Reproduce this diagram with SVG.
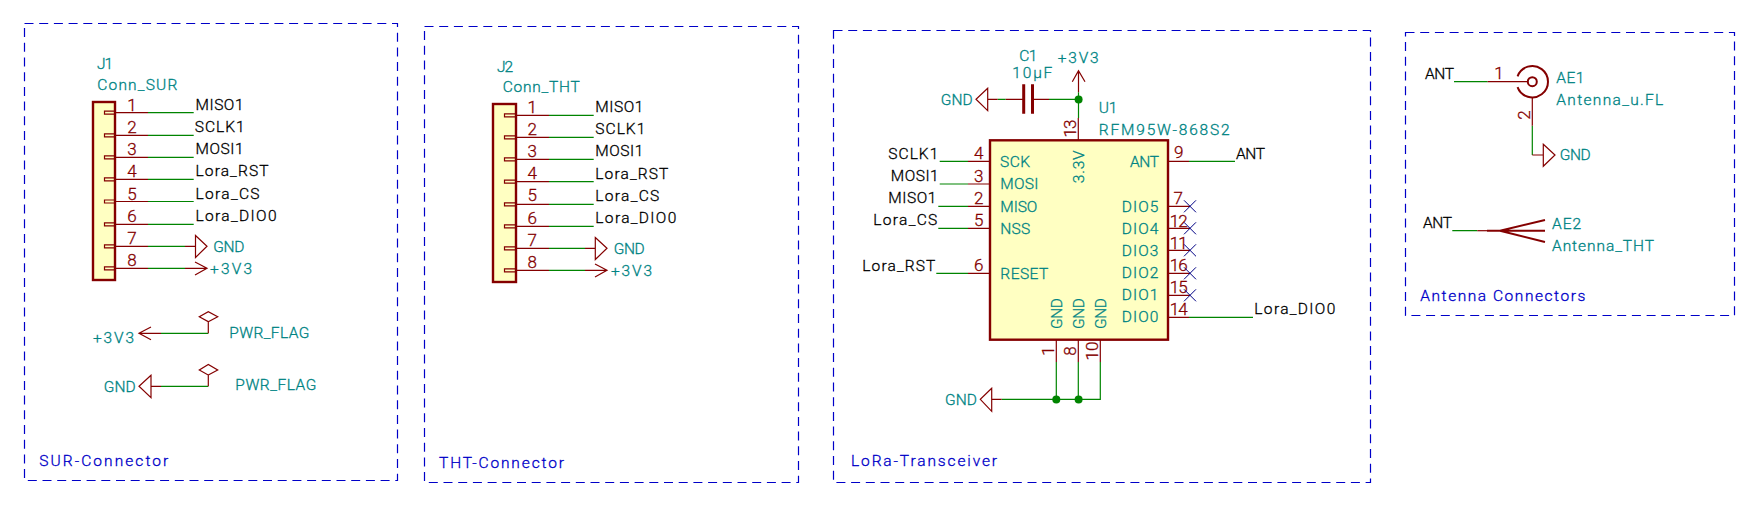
<svg xmlns="http://www.w3.org/2000/svg" width="1762" height="513" viewBox="0 0 1762 513">
<style>
text{font-family:Roboto,"Liberation Sans",sans-serif;font-weight:300;font-size:15.5px;stroke-width:.3}
.net{fill:#000;stroke:#000}
.ref{fill:#008484;stroke:#008484}
.num{fill:#840000;stroke:#840000;font-size:17px}
.note{fill:#0000c8;stroke:#0000c8}
.mid{text-anchor:middle}
.pin{fill:none;stroke:#840000;stroke-width:1.2}
.wire{fill:none;stroke:#008400;stroke-width:1.2}
.body{fill:#ffffc2;stroke:#840000;stroke-width:2.4}
.thick{fill:none;stroke:#840000;stroke-width:2}
.frame{fill:none;stroke:#0000c8;stroke-width:1.2;stroke-dasharray:9 5.7}
.nc{fill:none;stroke:#000084;stroke-width:1}
.dot{fill:#008400}
</style>
<rect width="1762" height="513" fill="#fff"/>
<g id="frames">
<rect class="frame" x="24.5" y="23.5" width="373" height="457"/>
<rect class="frame" x="424.5" y="26.5" width="374" height="456"/>
<rect class="frame" x="833.5" y="30.5" width="537" height="452"/>
<rect class="frame" x="1405.5" y="32.5" width="329" height="283"/>
<text class="note" x="39.3" y="466" textLength="129">SUR-Connector</text>
<text class="note" x="439" y="468" textLength="125">THT-Connector</text>
<text class="note" x="851" y="466" textLength="146">LoRa-Transceiver</text>
<text class="note" x="1420.3" y="301.3" textLength="165">Antenna Connectors</text>
</g>
<g id="connectors">
<path class="wire" d="M148 112.7H193.7M148 135.3H193.7M148 157.3H193.7M148 179.3H193.7M148 201.5H193.7M148 224.3H193.7M148 246.3H185M148 268.3H185"/>
<path class="wire" d="M161 333.3H208.3M161 386.3H208.3"/>
<path class="wire" d="M549 115.3H593.7M549 137.3H593.7M549 159.3H593.7M549 181.7H593.7M549 204.3H593.7M549 226.3H593.7M549 248.3H585M549 270.3H585"/>
<path class="wire" d="M997.7 99.3H1005.7M1049 99.3H1078.5M1078.5 92.3V118"/>
<path class="wire" d="M939.7 161.3H968M939.7 184H968M938.3 206.3H968M938.3 228.3H968M936.3 273.3H968"/>
<path class="wire" d="M1189 161.3H1235M1189 317.3H1253"/>
<path class="wire" d="M1056.3 362V399.3M1078.3 362V399.3M1100.3 362V399.3H1001.7"/>
<circle class="dot" cx="1078.6" cy="99.6" r="4"/>
<circle class="dot" cx="1056.3" cy="399.6" r="4"/>
<circle class="dot" cx="1078.6" cy="399.6" r="4"/>
<path class="wire" d="M1454 81.7H1487.7M1532.3 125.7V155M1452.3 230.7H1477.3"/>
</g>
<g id="J1">
<rect class="body" x="93" y="102" width="22" height="178"/>
<path class="pin" d="M104.5 111.2H115V114.2H104.5ZM104.5 133.8H115V136.8H104.5ZM104.5 155.8H115V158.8H104.5ZM104.5 177.8H115V180.8H104.5ZM104.5 200H115V203H104.5ZM104.5 222.8H115V225.8H104.5ZM104.5 244.8H115V247.8H104.5ZM104.5 266.8H115V269.8H104.5Z"/>
<path class="pin" d="M115 112.7H148M115 135.3H148M115 157.3H148M115 179.3H148M115 201.5H148M115 224.3H148M115 246.3H148M115 268.3H148"/>
<g class="mid">
<text class="num" x="132" y="111">1</text><text class="num" x="132" y="132.7">2</text><text class="num" x="132" y="155">3</text><text class="num" x="132" y="177">4</text><text class="num" x="132" y="199.5">5</text><text class="num" x="132" y="221.7">6</text><text class="num" x="132" y="243.7">7</text><text class="num" x="132" y="265.7">8</text>
</g>
<text class="ref" x="97" y="69.3" textLength="16">J1</text>
<text class="ref" x="97.3" y="89.7" textLength="80">Conn_SUR</text>
</g>
<g id="J1-labels">
<text class="net" x="195.5" y="110" textLength="48">MISO1</text>
<text class="net" x="194.7" y="131.7" textLength="50">SCLK1</text>
<text class="net" x="195.5" y="153.7" textLength="48">MOSI1</text>
<text class="net" x="195.5" y="176.3" textLength="73">Lora_RST</text>
<text class="net" x="195.5" y="198.7" textLength="64">Lora_CS</text>
<text class="net" x="195.5" y="220.7" textLength="81">Lora_DIO0</text>
</g>
<g id="J1-GND">
<path class="pin" d="M185 246.3H195.5M195.5 235.5L207 246.3L195.5 257.5Z"/>
<text class="ref" x="213.3" y="251.7" textLength="31">GND</text>
</g>
<g id="J1-3V3">
<path class="pin" d="M185 268.3H207M195 262L207 268.3L195 275"/>
<text class="ref" x="210" y="274" textLength="42">+3V3</text>
</g>
<g id="PWR-3V3">
<path class="pin" d="M139 333.3H161M151 327L139 333.3L151 339.7"/>
<text class="ref" x="93" y="343.3" textLength="41">+3V3</text>
</g>
<g id="FLG1">
<path class="pin" d="M208.3 333.3V321.7L199.3 316.7L208.3 311.7L217.7 316.7L208.3 321.7"/>
<text class="ref" x="229.3" y="338.3" textLength="80">PWR_FLAG</text>
</g>
<g id="PWR-GND">
<path class="pin" d="M151 386.3H161M151 375.3L139 386.3L151 397.7Z"/>
<text class="ref" x="103.7" y="391.7" textLength="32">GND</text>
</g>
<g id="FLG2">
<path class="pin" d="M208.3 386.3V375L199.3 370L208.3 364.5L217.7 370L208.3 375"/>
<text class="ref" x="235.3" y="389.7" textLength="81">PWR_FLAG</text>
</g>
<g id="J2">
<rect class="body" x="493" y="104" width="23" height="178"/>
<path class="pin" d="M504.5 113.8H516V116.8H504.5ZM504.5 135.8H516V138.8H504.5ZM504.5 157.8H516V160.8H504.5ZM504.5 180.2H516V183.2H504.5ZM504.5 202.8H516V205.8H504.5ZM504.5 224.8H516V227.8H504.5ZM504.5 246.8H516V249.8H504.5ZM504.5 268.8H516V271.8H504.5Z"/>
<path class="pin" d="M516 115.3H549M516 137.3H549M516 159.3H549M516 181.7H549M516 204.3H549M516 226.3H549M516 248.3H549M516 270.3H549"/>
<g class="mid">
<text class="num" x="532.3" y="112.7">1</text><text class="num" x="532.3" y="134.7">2</text><text class="num" x="532.3" y="156.7">3</text><text class="num" x="532.3" y="179">4</text><text class="num" x="532.3" y="201.3">5</text><text class="num" x="532.3" y="223.7">6</text><text class="num" x="532.3" y="245.7">7</text><text class="num" x="532.3" y="268">8</text>
</g>
<text class="ref" x="497" y="71.7" textLength="16">J2</text>
<text class="ref" x="502.7" y="91.7" textLength="77">Conn_THT</text>
</g>
<g id="J2-labels">
<text class="net" x="595.3" y="112" textLength="48">MISO1</text>
<text class="net" x="595.3" y="134" textLength="50">SCLK1</text>
<text class="net" x="595.3" y="156.3" textLength="48">MOSI1</text>
<text class="net" x="595.3" y="178.7" textLength="73">Lora_RST</text>
<text class="net" x="595.3" y="201" textLength="64">Lora_CS</text>
<text class="net" x="595.3" y="223" textLength="81">Lora_DIO0</text>
</g>
<g id="J2-GND">
<path class="pin" d="M585 248.3H595.3M595.3 237.5L607 248.3L595.3 259.5Z"/>
<text class="ref" x="613.7" y="253.7" textLength="31">GND</text>
</g>
<g id="J2-3V3">
<path class="pin" d="M585 270.3H607M595 264L607 270.3L595 277"/>
<text class="ref" x="611" y="275.7" textLength="41">+3V3</text>
</g>
<g id="C1">
<path class="pin" d="M1005.7 99.3H1023.7M1032.5 99.3H1049"/>
<path d="M1023.7 84.3V113.7M1032.5 84.3V113.7" fill="none" stroke="#840000" stroke-width="3"/>
<text class="ref" x="1019.3" y="60.7" textLength="18">C1</text>
<text class="ref" x="1012.3" y="77.7" textLength="40">10µF</text>
</g>
<g id="C1-GND">
<path class="pin" d="M987.7 99.3H997.7M987.7 88.3L976 99.3L987.7 110.7Z"/>
<text class="ref" x="940.7" y="104.7" textLength="32">GND</text>
</g>
<g id="U1-3V3">
<path class="pin" d="M1078.5 92.3V70.7M1072.3 81.7L1078.5 70.7L1085 81.7"/>
<text class="ref" x="1057.7" y="62.7" textLength="41">+3V3</text>
</g>
<g id="U1">
<rect class="body" x="990" y="140.3" width="178" height="199.4"/>
<path class="pin" d="M968 161.3H990M968 184H990M968 206.3H990M968 228.3H990M968 273.3H990"/>
<path class="pin" d="M1168 161.3H1189M1168 206.3H1190M1168 228.3H1190M1168 250.3H1190M1168 273.3H1190M1168 295.3H1190M1168 317.3H1189"/>
<path class="pin" d="M1078.3 118V140M1056.3 340V362M1078.3 340V362M1100.3 340V362"/>
<g class="mid">
<text class="num" x="978.7" y="159.3">4</text><text class="num" x="978.7" y="182">3</text><text class="num" x="978.7" y="204">2</text><text class="num" x="978.7" y="226">5</text><text class="num" x="978.7" y="271.3">6</text>
<text class="num" x="1178.7" y="157.7">9</text><text class="num" x="1178.3" y="204">7</text>
<text class="num" x="1178.7" y="226.7" textLength="18">12</text><text class="num" x="1178.7" y="248.7" textLength="18">11</text><text class="num" x="1178.7" y="271.3" textLength="18">16</text><text class="num" x="1178.7" y="293.3" textLength="18">15</text><text class="num" x="1178.7" y="315.3" textLength="18">14</text>
<text class="num" transform="translate(1076 128.5) rotate(-90)" textLength="18">13</text>
<text class="num" transform="translate(1054.3 351) rotate(-90)">1</text>
<text class="num" transform="translate(1076.3 351) rotate(-90)">8</text>
<text class="num" transform="translate(1098.3 351) rotate(-90)" textLength="19">10</text>
</g>
<text class="ref" x="1000" y="166.7" textLength="30">SCK</text>
<text class="ref" x="1000.3" y="189.3" textLength="38">MOSI</text>
<text class="ref" x="1000.3" y="211.7" textLength="37">MISO</text>
<text class="ref" x="1000.3" y="233.7" textLength="30">NSS</text>
<text class="ref" x="1000.3" y="279" textLength="48">RESET</text>
<text class="ref" x="1130" y="166.7" textLength="29">ANT</text>
<text class="ref" x="1121.7" y="211.7" textLength="36.7">DIO5</text>
<text class="ref" x="1121.7" y="233.7" textLength="36.7">DIO4</text>
<text class="ref" x="1121.7" y="255.7" textLength="36.7">DIO3</text>
<text class="ref" x="1121.7" y="278.3" textLength="36.7">DIO2</text>
<text class="ref" x="1121.7" y="300.3" textLength="36.7">DIO1</text>
<text class="ref" x="1121.7" y="322.3" textLength="36.7">DIO0</text>
<text class="ref" transform="translate(1084.3 183.3) rotate(-90)" textLength="33">3.3V</text>
<text class="ref" transform="translate(1061.7 329) rotate(-90)" textLength="31">GND</text>
<text class="ref" transform="translate(1084 329) rotate(-90)" textLength="31">GND</text>
<text class="ref" transform="translate(1106 329) rotate(-90)" textLength="31">GND</text>
<text class="ref" x="1098.7" y="112.7" textLength="18.6">U1</text>
<text class="ref" x="1098.7" y="135" textLength="131">RFM95W-868S2</text>
<path class="nc" d="M1184 200.3L1196 212.3M1196 200.3L1184 212.3M1184 222.3L1196 234.3M1196 222.3L1184 234.3M1184 244.3L1196 256.3M1196 244.3L1184 256.3M1184 267.3L1196 279.3M1196 267.3L1184 279.3M1184 289.3L1196 301.3M1196 289.3L1184 301.3"/>
</g>
<g id="U1-labels">
<text class="net" x="888.3" y="158.7" textLength="50">SCLK1</text>
<text class="net" x="890.7" y="180.7" textLength="48">MOSI1</text>
<text class="net" x="888.3" y="203" textLength="48">MISO1</text>
<text class="net" x="873.3" y="225.3" textLength="64">Lora_CS</text>
<text class="net" x="862.3" y="270.7" textLength="73">Lora_RST</text>
<text class="net" x="1236" y="158.7" textLength="29">ANT</text>
<text class="net" x="1254.3" y="314.3" textLength="81">Lora_DIO0</text>
</g>
<g id="U1-GND">
<path class="pin" d="M991.7 399.3H1001.7M991.7 388.3L980.3 399.3L991.7 411.3Z"/>
<text class="ref" x="945" y="404.7" textLength="32">GND</text>
</g>
<g id="AE1">
<path class="thick" d="M1517.55 76.3A15.7 15.7 0 1 1 1517.55 87.1"/>
<circle class="thick" cx="1532.3" cy="81.7" r="4.5"/>
<path class="pin" d="M1487.7 81.7H1527.7M1532.3 97.4V125.7"/>
<text class="num mid" x="1499" y="79.3">1</text>
<text class="num mid" transform="translate(1530 115) rotate(-90)">2</text>
<text class="ref" x="1556.3" y="82.7" textLength="28">AE1</text>
<text class="ref" x="1556.3" y="104.7" textLength="107">Antenna_u.FL</text>
</g>
<g id="AE1-labels">
<text class="net" x="1425" y="78.7" textLength="29">ANT</text>
</g>
<g id="AE1-GND">
<path class="pin" d="M1532.3 155H1543.3M1543.3 144.3L1555 155L1543.3 166.3Z"/>
<text class="ref" x="1559.7" y="160.3" textLength="31">GND</text>
</g>
<g id="AE2">
<path class="pin" d="M1477.3 230.7H1487"/>
<path class="thick" d="M1487 230.7H1545M1500 230.7L1545 220M1500 230.7L1545 242"/>
<text class="ref" x="1552" y="228.7" textLength="29">AE2</text>
<text class="ref" x="1552" y="250.7" textLength="102">Antenna_THT</text>
</g>
<g id="AE2-labels">
<text class="net" x="1423" y="227.7" textLength="29">ANT</text>
</g>
</svg>
